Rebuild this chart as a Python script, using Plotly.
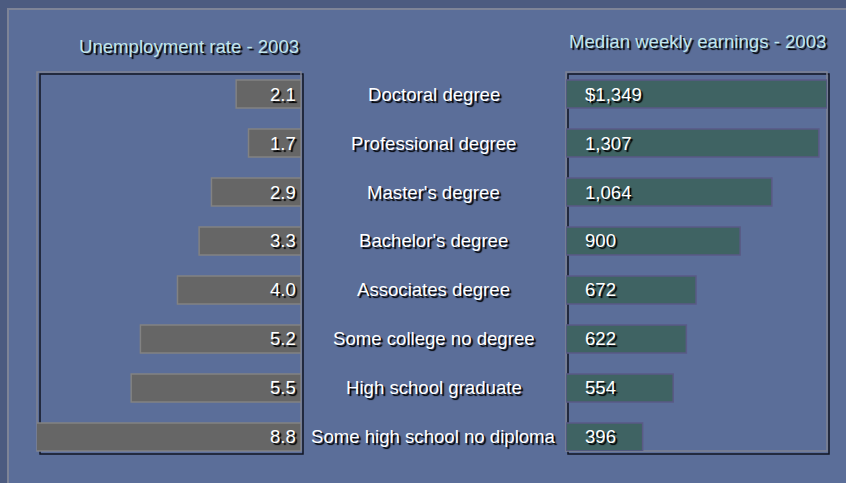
import plotly.graph_objects as go

# ---- data ----
categories = ["Doctoral degree", "Professional degree", "Master's degree", "Bachelor's degree",
              "Associates degree", "Some college no degree", "High school graduate",
              "Some high school no diploma"]
unemployment = [2.1, 1.7, 2.9, 3.3, 4.0, 5.2, 5.5, 8.8]
earnings = [1349, 1307, 1064, 900, 672, 622, 554, 396]
unemp_labels = [f"{v:.1f}" for v in unemployment]
earn_labels = [("$" if i == 0 else "") + f"{v:,}" for i, v in enumerate(earnings)]
title_left = "Unemployment rate - 2003"
title_right = "Median weekly earnings - 2003"

W, H = 846, 483
def px(x): return x / W
def py(y): return 1 - y / H

FONT = "Liberation Sans, Arial, sans-serif"
FS = 18.6
SHADOW = "2px 2px 1px #000000"

fig = go.Figure()
fig.add_trace(go.Bar(y=categories, x=unemployment, orientation="h", width=0.57,
                     marker=dict(color="#666666", line=dict(color="#828282", width=1.5)),
                     xaxis="x", yaxis="y", hoverinfo="skip"))
fig.add_trace(go.Bar(y=categories, x=earnings, orientation="h", width=0.57,
                     marker=dict(color="#3f6363", line=dict(color="#5a5a86", width=1.5)),
                     xaxis="x2", yaxis="y2", hoverinfo="skip"))

yr = [7.286, -0.449]
hidden = dict(showgrid=False, zeroline=False, showticklabels=False, showline=False, ticks="")
fig.update_layout(
    width=W, height=H, margin=dict(l=0, r=0, t=0, b=0),
    paper_bgcolor="#4c5b80", plot_bgcolor="rgba(0,0,0,0)", showlegend=False,
    xaxis=dict(domain=[px(37), px(301)], range=[8.55, 0], anchor="y", **hidden),
    yaxis=dict(domain=[py(451), py(72)], range=yr, type="category",
               categoryorder="array", categoryarray=categories, anchor="x", **hidden),
    xaxis2=dict(domain=[px(566), px(827)], range=[0, 1349], anchor="y2", **hidden),
    yaxis2=dict(domain=[py(451), py(72)], range=yr, type="category",
                categoryorder="array", categoryarray=categories, anchor="x2", **hidden),
)

shapes = [
    dict(type="rect", xref="paper", yref="paper", x0=px(8), x1=px(W + 5), y0=py(H + 5), y1=py(9),
         fillcolor="#5b6e99", line=dict(color="#7e8497", width=2), layer="below"),
    # frames: black shadow then gray
    dict(type="rect", xref="paper", yref="paper", x0=px(40), x1=px(303), y0=py(454), y1=py(74),
         line=dict(color="#111522", width=1.5), layer="below"),
    dict(type="rect", xref="paper", yref="paper", x0=px(37), x1=px(301), y0=py(451), y1=py(72),
         line=dict(color="#7f8393", width=1.5), layer="below"),
    dict(type="rect", xref="paper", yref="paper", x0=px(568), x1=px(829), y0=py(454), y1=py(74),
         line=dict(color="#111522", width=1.5), layer="below"),
    dict(type="rect", xref="paper", yref="paper", x0=px(566), x1=px(827), y0=py(451), y1=py(72),
         line=dict(color="#7f8393", width=1.5), layer="below"),
]
fig.update_layout(shapes=shapes)

ann = []
for c, lab in zip(categories, unemp_labels):
    ann.append(dict(x=0, y=c, xref="x", yref="y", text=lab, showarrow=False, xanchor="right",
                    xshift=-3, font=dict(family=FONT, size=FS, color="white", shadow=SHADOW)))
for c, lab in zip(categories, earn_labels):
    ann.append(dict(x=0, y=c, xref="x2", yref="y2", text=lab, showarrow=False, xanchor="left",
                    xshift=17, font=dict(family=FONT, size=FS, color="white", shadow=SHADOW)))
for c in categories:
    ann.append(dict(x=px(434), y=c, xref="paper", yref="y", text=c, showarrow=False,
                    xanchor="center", font=dict(family=FONT, size=FS, color="white", shadow=SHADOW)))
ann.append(dict(x=px(301), y=py(46), xref="paper", yref="paper", text=title_left, showarrow=False,
                xanchor="right", yanchor="middle",
                font=dict(family=FONT, size=FS, color="#c2e6ec", shadow=SHADOW)))
ann.append(dict(x=px(828), y=py(42), xref="paper", yref="paper", text=title_right, showarrow=False,
                xanchor="right", yanchor="middle",
                font=dict(family=FONT, size=FS, color="#c2e6ec", shadow=SHADOW)))
fig.update_layout(annotations=ann)

fig.write_html("out.html", config={"displayModeBar": False},
               post_script="document.body.style.margin='0';document.body.style.overflow='hidden';")
